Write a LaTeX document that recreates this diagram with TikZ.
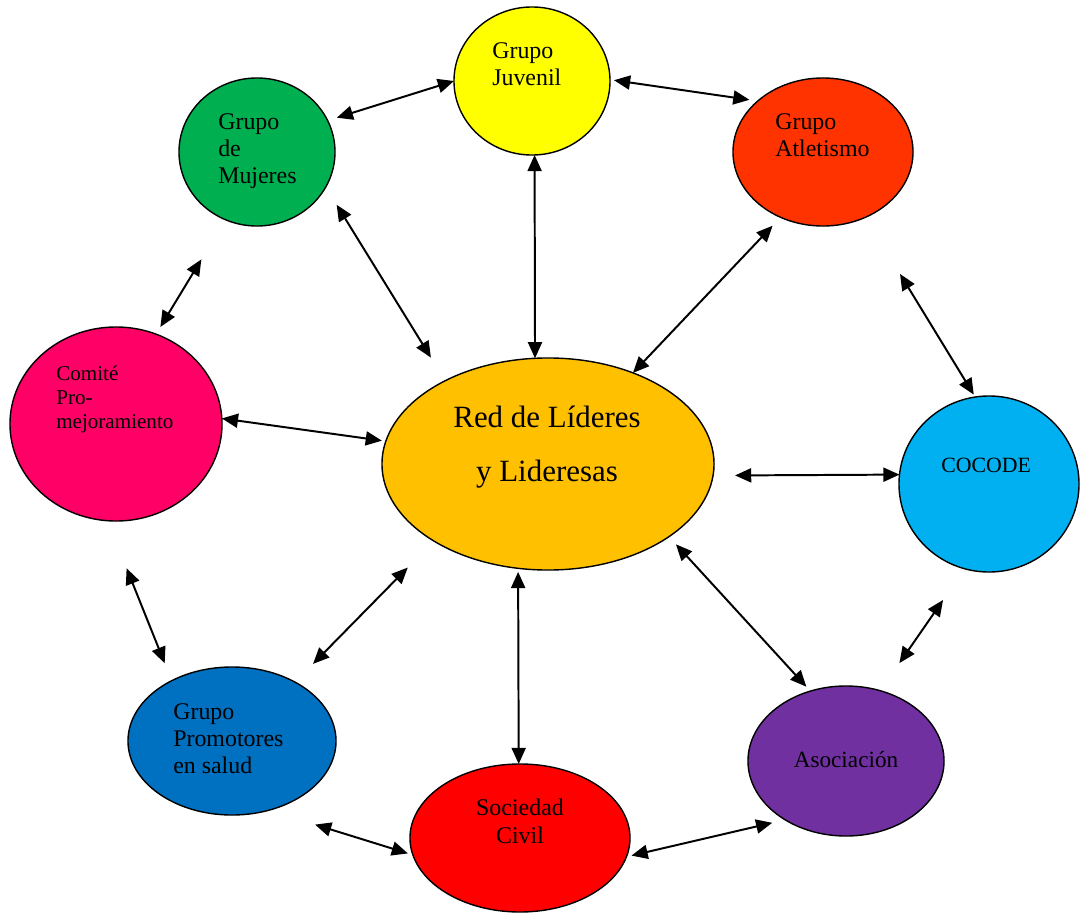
\documentclass[tikz,border=0pt]{standalone}
\usepackage{fontspec}
\setmainfont{Liberation Serif}
\usetikzlibrary{shapes.geometric,arrows.meta}

\definecolor{juvenil}{HTML}{FFFF00}
\definecolor{atletismo}{HTML}{FF3300}
\definecolor{mujeres}{HTML}{00B050}
\definecolor{comite}{HTML}{FF0066}
\definecolor{redlid}{HTML}{FFC000}
\definecolor{cocode}{HTML}{00B0F0}
\definecolor{promotores}{HTML}{0070C0}
\definecolor{sociedad}{HTML}{FF0000}
\definecolor{asociacion}{HTML}{7030A0}

\begin{document}
\begin{tikzpicture}[x=0.025cm,y=-0.025cm,
    grupo/.style={ellipse,draw,line width=1pt,inner sep=0pt,outer sep=0pt},
    texto/.style={inner sep=0pt,align=left,font=\fontsize{17}{19.5}\selectfont},
    flecha/.style={{Triangle[length=11.5pt,width=10pt]}-{Triangle[length=11.5pt,width=10pt]},line width=1.4pt}]

    %frame:
    \useasboundingbox (0,0) rectangle (1080,914);

    %groups:
    \node[grupo,fill=juvenil,minimum width=3.9cm,minimum height=3.7cm] (juv) at (532,81) {};
    \node[grupo,fill=atletismo,minimum width=4.5cm,minimum height=3.7cm] (atl) at (823,152) {};
    \node[grupo,fill=mujeres,minimum width=3.9cm,minimum height=3.7cm] (muj) at (257,152) {};
    \node[grupo,fill=comite,minimum width=5.3cm,minimum height=4.85cm] (com) at (116,424) {};
    \node[grupo,fill=redlid,minimum width=8.3cm,minimum height=5.3cm] (red) at (548,464) {};
    \node[grupo,fill=cocode,minimum width=4.5cm,minimum height=4.4cm] (coc) at (989,484) {};
    \node[grupo,fill=promotores,minimum width=5.2cm,minimum height=3.7cm] (pro) at (232,741) {};
    \node[grupo,fill=sociedad,minimum width=5.5cm,minimum height=3.7cm] (soc) at (520,838) {};
    \node[grupo,fill=asociacion,minimum width=4.9cm,minimum height=3.75cm] (aso) at (846,761) {};

    %names:
    \node[texto,anchor=north west] (tjuv) at (492,42) {Grupo\\Juvenil};
    \node[texto,anchor=north west] (tatl) at (775,113) {Grupo\\Atletismo};
    \node[texto,anchor=north west] (tmuj) at (218,113) {Grupo\\de\\Mujeres};
    \node[texto,anchor=north west,font=\fontsize{15}{17}\selectfont] (tcom) at (56,366) {Comité\\Pro-\\mejoramiento};
    \node[texto,anchor=north,align=center,font=\fontsize{22}{38.4}\selectfont] (tred) at (547,406) {Red de Líderes\\y Lideresas};
    \node[texto,anchor=north west,font=\fontsize{15.5}{18}\selectfont] (tcoc) at (941,458) {COCODE};
    \node[texto,anchor=north west] (tpro) at (173,703) {Grupo\\Promotores\\en salud};
    \node[texto,anchor=north,align=center] (tsoc) at (520,799) {Sociedad\\Civil};
    \node[texto,anchor=north,font=\fontsize{16.5}{19}\selectfont] (taso) at (846,751) {Asociación};

    %arrows:
    \draw[flecha,shorten <=0.24cm] (muj.24.3) -- (juv.180);
    \draw[flecha,shorten <=0.1cm,shorten >=0.21cm] (juv.1.9) -- (atl.142.3);
    \draw[flecha] (juv.272.3) -- (red.97);
    \draw[flecha,shorten <=0.52cm,shorten >=0.68cm] (muj.-27.8) -- (red.141.75);
    \draw[flecha,shorten <=0.29cm] (atl.237.6) -- (red.47);
    \draw[flecha,shorten <=1.16cm,shorten >=0.21cm] (muj.245.8) -- (com.66.7);
    \draw[flecha,shorten >=0.1cm] (com.3.4) -- (red.172.9);
    \draw[flecha,shorten <=0.55cm] (red.-4.2) -- (coc.174.9);
    \draw[flecha,shorten <=1.66cm,shorten >=0.07cm] (atl.-57.3) -- (coc.99.8);
    \draw[flecha,shorten <=1.28cm,shorten >=0.47cm] (com.265.5) -- (pro.135);
    \draw[flecha,shorten <=0.93cm,shorten >=0.64cm] (red.214.8) -- (pro.43);
    \draw[flecha,shorten <=0.09cm] (red.254) -- (soc.91.5);
    \draw[flecha,shorten <=0.26cm,shorten >=0.15cm] (red.-31.4) -- (aso.117.2);
    \draw[flecha,shorten <=0.95cm,shorten >=0.84cm] (coc.254.2) -- (aso.64.1);
    \draw[flecha,shorten <=1.21cm,shorten >=0.13cm] (pro.-62.5) -- (soc.189.9);
    \draw[flecha,shorten <=0.13cm,shorten >=0.33cm] (soc.-10.6) -- (aso.224.7);

\end{tikzpicture}
\end{document}
